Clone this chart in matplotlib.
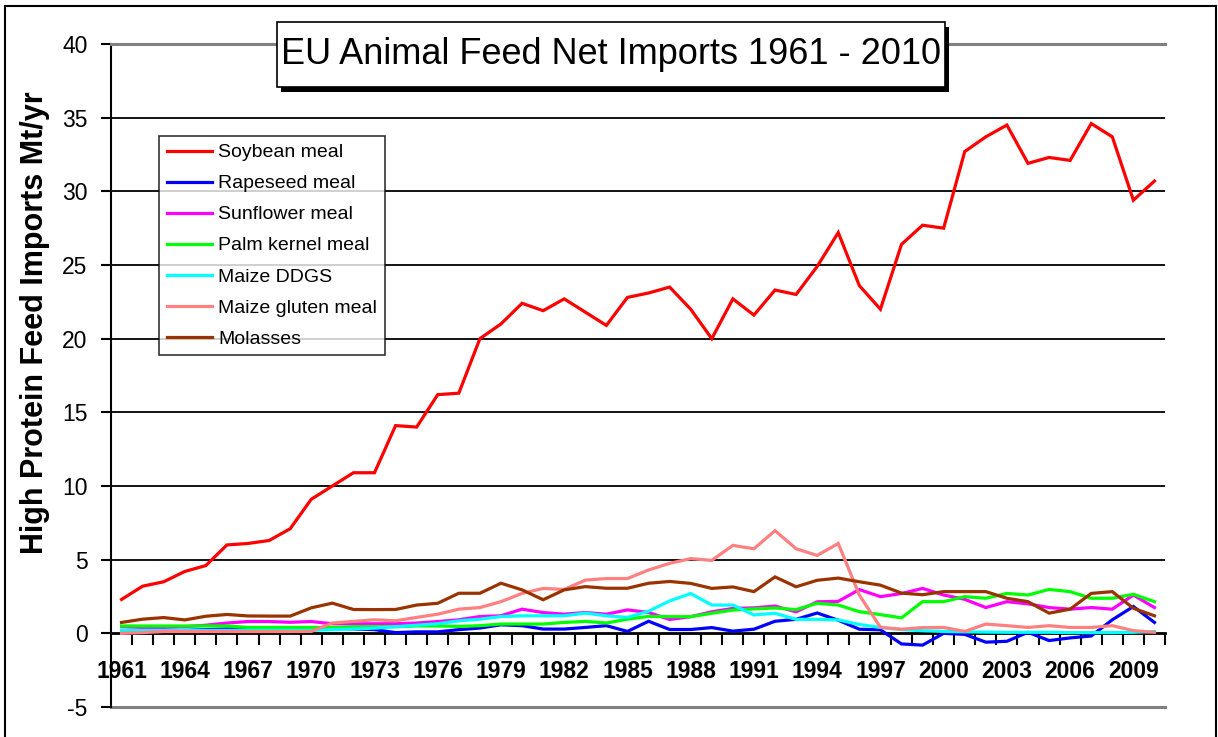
import matplotlib
matplotlib.use("Agg")
import matplotlib.pyplot as plt
from matplotlib.patches import Rectangle
from matplotlib.ticker import FixedLocator, NullFormatter

years = list(range(1961, 2011))

soybean = [2.3, 3.2, 3.5, 4.2, 4.6, 6.0, 6.1, 6.3, 7.1, 9.1,
           10.0, 10.9, 10.9, 14.1, 14.0, 16.2, 16.3, 20.0, 21.0, 22.4,
           21.9, 22.7, 21.8, 20.9, 22.8, 23.1, 23.5, 22.0, 20.0, 22.7,
           21.6, 23.3, 23.0, 24.9, 27.2, 23.6, 22.0, 26.4, 27.7, 27.5,
           32.7, 33.7, 34.5, 31.9, 32.3, 32.1, 34.6, 33.7, 29.4, 30.7]
rapeseed = [0.1, 0.1, 0.15, 0.2, 0.25, 0.3, 0.3, 0.25, 0.25, 0.3,
            0.35, 0.3, 0.25, 0.05, 0.1, 0.1, 0.25, 0.36, 0.58, 0.52,
            0.29, 0.29, 0.4, 0.52, 0.13, 0.82, 0.26, 0.26, 0.39, 0.15,
            0.28, 0.82, 0.95, 1.38, 0.89, 0.28, 0.24, -0.72, -0.8, 0.0,
            -0.07, -0.6, -0.54, 0.07, -0.49, -0.31, -0.18, 0.92, 1.82, 0.74]
sunflower = [0.45, 0.4, 0.4, 0.45, 0.55, 0.7, 0.8, 0.8, 0.75, 0.8,
             0.65, 0.65, 0.65, 0.65, 0.7, 0.8, 0.92, 1.14, 1.19, 1.64,
             1.41, 1.3, 1.41, 1.3, 1.59, 1.42, 0.94, 1.13, 1.46, 1.69,
             1.73, 1.85, 1.46, 2.14, 2.17, 2.97, 2.49, 2.7, 3.05, 2.6,
             2.31, 1.75, 2.15, 2.0, 1.75, 1.64, 1.75, 1.64, 2.6, 1.75]
palm_kernel = [0.5, 0.5, 0.5, 0.5, 0.5, 0.5, 0.4, 0.4, 0.4, 0.4,
               0.4, 0.45, 0.45, 0.45, 0.5, 0.5, 0.47, 0.52, 0.63, 0.63,
               0.63, 0.74, 0.81, 0.7, 0.96, 1.15, 1.13, 1.13, 1.36, 1.58,
               1.66, 1.72, 1.61, 2.04, 1.92, 1.47, 1.27, 1.05, 2.15, 2.15,
               2.49, 2.38, 2.71, 2.6, 2.98, 2.83, 2.38, 2.38, 2.65, 2.15]
maize_ddgs = [0.2, 0.2, 0.2, 0.2, 0.2, 0.2, 0.2, 0.2, 0.2, 0.2,
              0.25, 0.3, 0.35, 0.45, 0.55, 0.65, 0.85, 0.96, 1.14, 1.19,
              1.19, 1.19, 1.37, 1.19, 1.08, 1.5, 2.2, 2.7, 1.92, 1.92,
              1.25, 1.36, 0.95, 0.95, 0.91, 0.6, 0.4, 0.25, 0.18, 0.13,
              0.1, 0.08, 0.07, 0.07, 0.07, 0.05, 0.05, 0.05, 0.07, 0.12]
maize_gluten = [0.0, 0.05, 0.12, 0.12, 0.12, 0.12, 0.12, 0.12, 0.12, 0.13,
                0.7, 0.81, 0.92, 0.85, 1.08, 1.3, 1.64, 1.75, 2.15, 2.71,
                3.05, 2.98, 3.61, 3.72, 3.72, 4.3, 4.75, 5.07, 4.95, 5.97,
                5.74, 6.97, 5.74, 5.29, 6.1, 2.6, 0.41, 0.28, 0.39, 0.4,
                0.13, 0.63, 0.52, 0.4, 0.52, 0.4, 0.4, 0.52, 0.18, 0.07]
molasses = [0.74, 0.96, 1.07, 0.91, 1.16, 1.28, 1.18, 1.17, 1.17, 1.73,
            2.05, 1.62, 1.61, 1.62, 1.92, 2.04, 2.72, 2.72, 3.4, 2.95,
            2.28, 2.95, 3.17, 3.06, 3.06, 3.4, 3.52, 3.39, 3.05, 3.15,
            2.83, 3.83, 3.16, 3.6, 3.75, 3.5, 3.27, 2.73, 2.62, 2.83,
            2.83, 2.83, 2.38, 2.15, 1.37, 1.64, 2.71, 2.83, 1.7, 1.19]

series_names = ["Soybean meal", "Rapeseed meal", "Sunflower meal", "Palm kernel meal",
                "Maize DDGS", "Maize gluten meal", "Molasses"]
series_values = [soybean, rapeseed, sunflower, palm_kernel, maize_ddgs, maize_gluten, molasses]
series_colors = ["#FF0000", "#0000FF", "#FF00FF", "#00FF00", "#00FFFF", "#FF8080", "#993300"]

title_text = "EU Animal Feed Net Imports 1961 - 2010"
y_label = "High Protein Feed Imports Mt/yr"
y_ticks = [-5, 0, 5, 10, 15, 20, 25, 30, 35, 40]
label_step = 3

plt.rcParams['font.family'] = ['Liberation Sans', 'DejaVu Sans']

W, H = 1218, 737
fig = plt.figure(figsize=(W / 100, H / 100), dpi=100)

def fx(px):
    return px / W

def fy(py):
    return 1 - py / H

left, right, top, bottom = 111, 1165, 44, 707
ax = fig.add_axes([fx(left), fy(bottom), fx(right - left), (bottom - top) / H])

xs = list(range(len(years)))
for name, vals, col in zip(series_names, series_values, series_colors):
    ax.plot(xs, vals, color=col, lw=2.3, label=name, solid_joinstyle='miter', zorder=3)

ax.set_xlim(-0.5, len(years) - 0.5)
ax.set_ylim(-5, 40)

# gridlines
for v in y_ticks[2:-1]:
    ax.axhline(v, color='black', lw=1.3, zorder=1)
ax.axhline(-5, color='#808080', lw=2.2, zorder=1, clip_on=False)

ax.spines['top'].set_color('#808080')
ax.spines['top'].set_linewidth(2.2)
ax.spines['right'].set_visible(False)
ax.spines['left'].set_color('black')
ax.spines['left'].set_linewidth(1.5)
ax.spines['bottom'].set_position(('data', 0))
ax.spines['bottom'].set_color('black')
ax.spines['bottom'].set_linewidth(2.0)
ax.spines['bottom'].set_zorder(2.5)

ax.set_yticks(y_ticks)
ax.set_yticklabels([str(v) for v in y_ticks], fontsize=16.5)
ax.tick_params(axis='y', direction='out', length=7, width=1.5, pad=10, colors='black')

label_pos = xs[::label_step]
ax.set_xticks(label_pos)
ax.set_xticklabels([str(years[i]) for i in label_pos], fontsize=16.5, fontweight='bold')
ax.tick_params(axis='x', which='major', length=0, pad=19)
ax.xaxis.set_minor_locator(FixedLocator([i + 0.5 for i in xs]))
ax.xaxis.set_minor_formatter(NullFormatter())
ax.tick_params(axis='x', which='minor', direction='out', length=8.5, width=1.5)

fig.text(fx(35), fy(323), y_label, rotation=90, ha='center', va='center',
         fontsize=22, fontweight='bold')

# legend
leg = ax.legend(loc='upper left', bbox_to_anchor=(fx(159), fy(136)),
                bbox_transform=fig.transFigure, fontsize=14, frameon=True,
                fancybox=False, edgecolor='black', borderpad=0.4, labelspacing=0.69,
                handlelength=2.35, handletextpad=0.3, borderaxespad=0)
leg.get_frame().set_linewidth(1.2)
for lh in leg.get_lines():
    lh.set_linewidth(2.3)

# title box with shadow
fig.patches.append(Rectangle((fx(281), fy(92)), fx(945 - 277), (87 - 22) / H,
                             transform=fig.transFigure, facecolor='black',
                             edgecolor='none', zorder=5))
fig.patches.append(Rectangle((fx(277), fy(87)), fx(945 - 277), (87 - 22) / H,
                             transform=fig.transFigure, facecolor='white',
                             edgecolor='black', lw=1.2, zorder=6))
fig.text(fx(611), fy(55), title_text, ha='center', va='center', fontsize=26, zorder=7)

# outer chart border
fig.patches.append(Rectangle((fx(5), fy(745)), fx(1211), 739 / H,
                             transform=fig.transFigure, facecolor='none',
                             edgecolor='black', lw=1.5, zorder=0))

fig.savefig("out.png", dpi=100)
